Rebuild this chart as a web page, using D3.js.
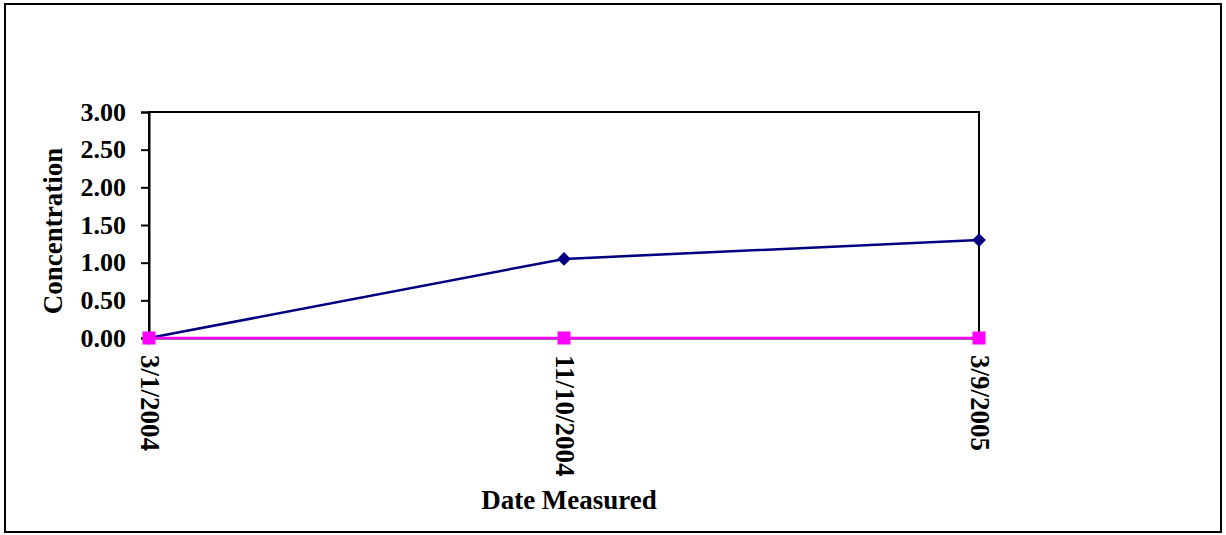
<!DOCTYPE html>
<html>
<head>
<meta charset="utf-8">
<script src="https://cdn.jsdelivr.net/npm/d3@7"></script>
<style>
  body { margin: 0; background: #fff; }
  text { font-family: "Liberation Serif", "Times New Roman", serif; font-weight: bold; }
</style>
</head>
<body>
<svg id="chart"></svg>
<script>
// data
var dates = ["3/1/2004", "11/10/2004", "3/9/2005"];
var seriesA = [0.00, 1.05, 1.30];
var seriesB = [0.00, 0.00, 0.00];
var yTicks = [0, 0.5, 1, 1.5, 2, 2.5, 3];

var width = 1226, height = 535;
var plot = { left: 149, right: 979, top: 112, bottom: 338 };

var svg = d3.select("#chart")
    .attr("width", width)
    .attr("height", height);

// outer frame
svg.append("rect")
    .attr("x", 5).attr("y", 4)
    .attr("width", 1216).attr("height", 528)
    .attr("fill", "none")
    .attr("stroke", "#000")
    .attr("stroke-width", 2);

var x = d3.scalePoint()
    .domain(dates)
    .range([plot.left, plot.right]);

var y = d3.scaleLinear()
    .domain([0, 3])
    .range([plot.bottom, plot.top]);

// plot area frame
svg.append("rect")
    .attr("x", plot.left).attr("y", plot.top)
    .attr("width", plot.right - plot.left)
    .attr("height", plot.bottom - plot.top)
    .attr("fill", "none")
    .attr("stroke", "#000")
    .attr("stroke-width", 2);

// y axis
var yAxis = svg.append("g")
    .attr("transform", "translate(" + plot.left + ",0)")
    .call(d3.axisLeft(y).tickValues(yTicks).tickFormat(d3.format(".2f")).tickSize(8).tickPadding(15));
yAxis.select(".domain").attr("stroke-width", 2);
yAxis.selectAll(".tick line").attr("stroke-width", 2);
yAxis.selectAll("text")
    .attr("font-size", 26)
    .attr("font-family", "Liberation Serif, serif")
    .attr("font-weight", "bold")
    .attr("fill", "#000");

// x axis, labels rotated
var xAxis = svg.append("g")
    .attr("transform", "translate(0," + plot.bottom + ")")
    .call(d3.axisBottom(x).tickSize(6).tickSizeOuter(0));
xAxis.select(".domain").attr("stroke-width", 2);
xAxis.selectAll(".tick line").attr("stroke-width", 2);
xAxis.selectAll("text")
    .attr("font-size", 27)
    .attr("font-family", "Liberation Serif, serif")
    .attr("font-weight", "bold")
    .attr("fill", "#000")
    .attr("transform", "rotate(90)")
    .attr("x", 17)
    .attr("y", 0)
    .attr("dy", "0.32em")
    .style("text-anchor", "start");

// axis titles
svg.append("text")
    .attr("transform", "translate(62,231) rotate(-90)")
    .attr("text-anchor", "middle")
    .attr("font-size", 27)
    .text("Concentration");

svg.append("text")
    .attr("x", 569).attr("y", 509)
    .attr("text-anchor", "middle")
    .attr("font-size", 27)
    .text("Date Measured");

var line = d3.line()
    .x((d, i) => x(dates[i]))
    .y(d => y(d));

// series A - navy with diamonds
svg.append("path")
    .datum(seriesA)
    .attr("d", line)
    .attr("fill", "none")
    .attr("stroke", "#000080")
    .attr("stroke-width", 2.5);

svg.selectAll(".diamond")
    .data(seriesA)
    .enter().append("path")
    .classed("diamond", true)
    .attr("d", d3.symbol().type(d3.symbolDiamond2).size(120))
    .attr("transform", (d, i) => "translate(" + x(dates[i]) + "," + y(d) + ")")
    .attr("fill", "#000080");

// series B - magenta with squares
svg.append("path")
    .datum(seriesB)
    .attr("d", line)
    .attr("fill", "none")
    .attr("stroke", "#ff00ff")
    .attr("stroke-width", 2.5);

svg.selectAll(".square")
    .data(seriesB)
    .enter().append("rect")
    .classed("square", true)
    .attr("x", (d, i) => x(dates[i]) - 6.5)
    .attr("y", d => y(d) - 6.5)
    .attr("width", 13)
    .attr("height", 13)
    .attr("fill", "#ff00ff");
</script>
</body>
</html>
